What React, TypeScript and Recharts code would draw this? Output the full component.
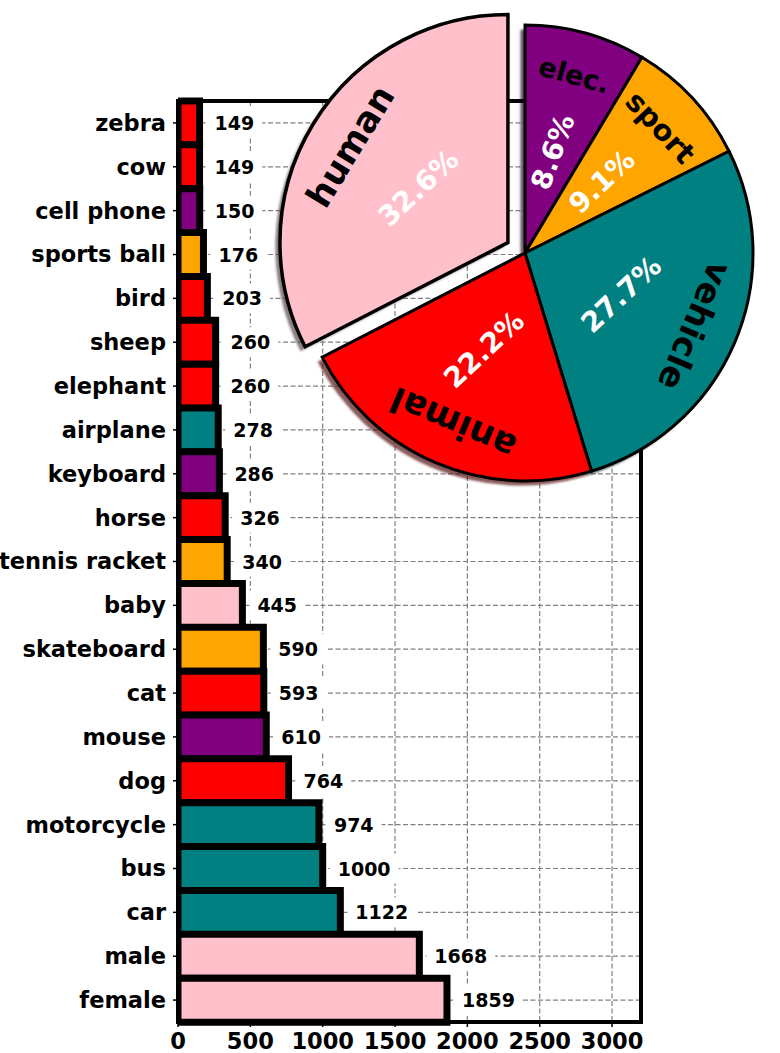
import React from 'react';
import {
  BarChart, Bar, XAxis, YAxis, CartesianGrid, Cell, LabelList, ReferenceArea,
  PieChart, Pie,
} from 'recharts';

// ---------- data ----------
const categories = [
  'zebra', 'cow', 'cell phone', 'sports ball', 'bird', 'sheep', 'elephant', 'airplane',
  'keyboard', 'horse', 'tennis racket', 'baby', 'skateboard', 'cat', 'mouse', 'dog',
  'motorcycle', 'bus', 'car', 'male', 'female',
];
const counts = [
  149, 149, 150, 176, 203, 260, 260, 278, 286, 326, 340, 445, 590, 593, 610, 764,
  974, 1000, 1122, 1668, 1859,
];
const groupOf = [
  'animal', 'animal', 'elec.', 'sport', 'animal', 'animal', 'animal', 'vehicle',
  'elec.', 'animal', 'sport', 'human', 'sport', 'animal', 'elec.', 'animal',
  'vehicle', 'vehicle', 'vehicle', 'human', 'human',
];
const xTicks = [0, 500, 1000, 1500, 2000, 2500, 3000];
const xDomain = [0, 3200];
const pieGroups = ['elec.', 'sport', 'vehicle', 'animal', 'human'];
const explodedGroup = 'human';

// ---------- styles ----------
const FONT = '"DejaVu Sans", sans-serif';
const groupColor: Record<string, string> = {
  animal: '#ff0000',
  'elec.': '#800080',
  sport: '#ffa500',
  vehicle: '#008080',
  human: '#ffc0cb',
};
const shadowColor: Record<string, string> = {
  animal: 'rgb(77,0,0)',
  'elec.': 'rgb(38,0,38)',
  sport: 'rgb(77,50,0)',
  vehicle: 'rgb(0,38,38)',
  human: 'rgb(77,58,61)',
};
const nameFontSize: Record<string, number> = {
  'elec.': 27, sport: 29, vehicle: 34, animal: 35, human: 35,
};
const pctRotation: Record<string, number> = {
  'elec.': -70, sport: -43, vehicle: -43, animal: -43, human: -43,
};

const barData = categories.map((name, i) => ({ name, value: counts[i], group: groupOf[i] }));
const pieData = pieGroups.map((g) => ({
  name: g,
  value: counts.reduce((s, c, i) => (groupOf[i] === g ? s + c : s), 0),
}));

// pie geometry
const PCX = 525;
const PCY = 253;
const PR = 228;
const EXPLODE = 20;
const SH = 4.6;
const RAD = Math.PI / 180;
const pieTotal = pieData.reduce((s, d) => s + d.value, 0);
const explodedIdx = pieData.findIndex((d) => d.name === explodedGroup);
const before = pieData.slice(0, explodedIdx).reduce((s, d) => s + d.value, 0);
const exStart = 90 - (360 * before) / pieTotal;
const exEnd = exStart - (360 * pieData[explodedIdx].value) / pieTotal;
const exMid = (exStart + exEnd) / 2;
const HCX = PCX + EXPLODE * Math.cos(exMid * RAD);
const HCY = PCY - EXPLODE * Math.sin(exMid * RAD);

const renderValueLabel = (props: any) => {
  const { x, y, width, height, value } = props;
  const tx = Number(x) + Number(width) + 15;
  const cy = Number(y) + Number(height) / 2;
  const w = String(value).length * 0.696 * 19;
  return (
    <g>
      <rect x={tx - 8} y={cy - 15} width={w + 16} height={30} fill="#ffffff" />
      <text x={tx} y={cy} dominantBaseline="central" fontSize={19} fontWeight="bold"
        fontFamily={FONT} fill="#000">{value}</text>
    </g>
  );
};

const makePieLabel = (which: 'main' | 'exploded') => (props: any) => {
  const { cx, cy, midAngle, outerRadius, percent, payload, name } = props;
  const nm: string = (payload && payload.name) || name;
  const isEx = nm === explodedGroup;
  if ((which === 'main' && isEx) || (which === 'exploded' && !isEx)) return null;
  const r = Number(outerRadius);
  const c = Math.cos(-midAngle * RAD);
  const s = Math.sin(-midAngle * RAD);
  const lx = Number(cx) + 0.81 * r * c;
  const ly = Number(cy) + 0.81 * r * s;
  const px = Number(cx) + 0.46 * r * c;
  const py = Number(cy) + 0.46 * r * s;
  const rot = 90 - midAngle;
  return (
    <g>
      <text x={lx} y={ly} textAnchor="middle" dominantBaseline="central"
        transform={`rotate(${rot} ${lx} ${ly})`} fontSize={nameFontSize[nm]} fontWeight="bold"
        fontFamily={FONT} fill="#000">{nm}</text>
      <text x={px} y={py} textAnchor="middle" dominantBaseline="central"
        transform={`rotate(${pctRotation[nm]} ${px} ${py})`} fontSize={28} fontWeight="bold"
        fontFamily={FONT} fill="#ffffff">{`${(percent * 100).toFixed(1)}%`}</text>
    </g>
  );
};

const axisTick = { fill: '#000', fontSize: 22.5, fontWeight: 'bold', fontFamily: FONT };
const NO_MARGIN = { top: 0, right: 0, bottom: 0, left: 0 };

export default function App() {
  return (
    <div style={{ position: 'absolute', left: 0, top: 0, width: 780, height: 1053, background: '#fff', overflow: 'hidden' }}>
      <div style={{ position: 'absolute', left: 0, top: 0 }}>
        <BarChart width={780} height={1053} data={barData} layout="vertical"
          margin={{ top: 101, right: 139, bottom: 0, left: 0 }} barCategoryGap={0} barGap={0}>
          <CartesianGrid stroke="#808080" strokeDasharray="5 2.5" strokeWidth={1.2} />
          <XAxis type="number" domain={xDomain} ticks={xTicks} allowDataOverflow interval={0}
            height={31} tickSize={5} tickMargin={6} axisLine={false}
            tickLine={{ stroke: '#000', strokeWidth: 1.5 }} tick={axisTick} />
          <YAxis type="category" dataKey="name" width={178} interval={0} tickSize={5} tickMargin={7}
            axisLine={false} tickLine={{ stroke: '#000', strokeWidth: 1.5 }} tick={axisTick} />
          <Bar dataKey="value" stroke="#000" strokeWidth={7} isAnimationActive={false}>
            {barData.map((d) => (
              <Cell key={d.name} fill={groupColor[d.group]} />
            ))}
            <LabelList dataKey="value" content={renderValueLabel} />
          </Bar>
          <ReferenceArea x1={xDomain[0]} x2={xDomain[1]} fill="none" fillOpacity={0}
            stroke="#000" strokeWidth={4} ifOverflow="visible" />
        </BarChart>
      </div>
      <div style={{ position: 'absolute', left: 0, top: 0, pointerEvents: 'none' }}>
        <PieChart width={780} height={1053} margin={NO_MARGIN}>
          <defs>
            <filter id="pieShadowBlur" x="-20%" y="-20%" width="140%" height="140%">
              <feGaussianBlur stdDeviation="1.1" />
            </filter>
          </defs>
          <Pie data={pieData} dataKey="value" nameKey="name" cx={PCX - SH} cy={PCY + SH}
            outerRadius={PR} startAngle={90} endAngle={-270} isAnimationActive={false}
            stroke="none" labelLine={false} label={false}>
            {pieData.map((d) => (
              <Cell key={d.name} fill={d.name === explodedGroup ? 'none' : shadowColor[d.name]}
                fillOpacity={0.65} stroke="none" filter="url(#pieShadowBlur)" />
            ))}
          </Pie>
          <Pie data={pieData} dataKey="value" nameKey="name" cx={HCX - SH} cy={HCY + SH}
            outerRadius={PR} startAngle={90} endAngle={-270} isAnimationActive={false}
            stroke="none" labelLine={false} label={false}>
            {pieData.map((d) => (
              <Cell key={d.name} fill={d.name === explodedGroup ? shadowColor[d.name] : 'none'}
                fillOpacity={0.65} stroke="none" filter="url(#pieShadowBlur)" />
            ))}
          </Pie>
          <Pie data={pieData} dataKey="value" nameKey="name" cx={PCX} cy={PCY}
            outerRadius={PR} startAngle={90} endAngle={-270} isAnimationActive={false}
            labelLine={false} label={makePieLabel('main')}>
            {pieData.map((d) => (
              <Cell key={d.name} fill={d.name === explodedGroup ? 'none' : groupColor[d.name]}
                stroke={d.name === explodedGroup ? 'none' : '#000'} strokeWidth={3} />
            ))}
          </Pie>
          <Pie data={pieData} dataKey="value" nameKey="name" cx={HCX} cy={HCY}
            outerRadius={PR} startAngle={90} endAngle={-270} isAnimationActive={false}
            labelLine={false} label={makePieLabel('exploded')}>
            {pieData.map((d) => (
              <Cell key={d.name} fill={d.name === explodedGroup ? groupColor[d.name] : 'none'}
                stroke={d.name === explodedGroup ? '#000' : 'none'} strokeWidth={3.5} />
            ))}
          </Pie>
        </PieChart>
      </div>
    </div>
  );
}
